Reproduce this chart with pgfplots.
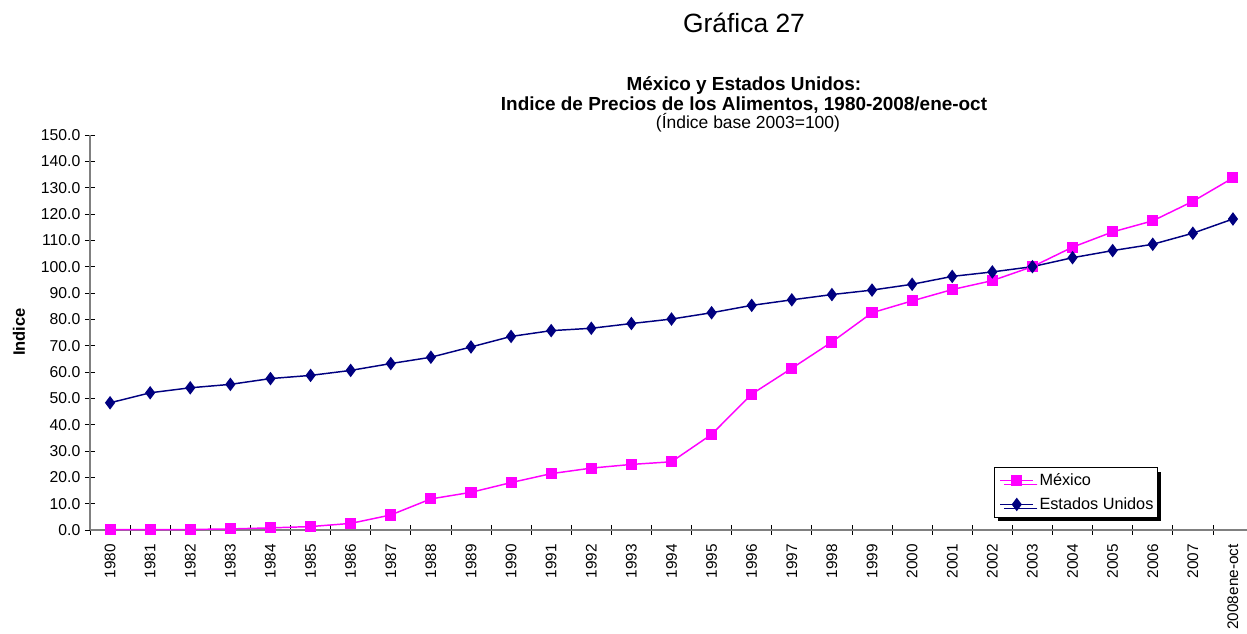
\documentclass[border=0pt]{standalone}
\usepackage{fontspec}
\setmainfont{Liberation Sans}
\usepackage{pgfplots}
\pgfplotsset{compat=1.18}
\usetikzlibrary{shadows}
\definecolor{mxmag}{HTML}{FF00FF}
\definecolor{usnavy}{HTML}{000080}
\definecolor{axgray}{HTML}{808080}

\begin{document}
\begin{tikzpicture}
\path[use as bounding box] (0,0) rectangle (935.25pt,475.5pt);
% titles (positions in px of the 1247x634 frame, 1px = 0.75pt)
\node[anchor=base, font=\fontsize{19.8}{23}\selectfont] at (558pt,450.75pt) {Gráfica 27};
\node[anchor=base, font=\bfseries\fontsize{14.2}{16}\selectfont] at (558pt,407.25pt) {México y Estados Unidos:};
\node[anchor=base, font=\bfseries\fontsize{14.2}{16}\selectfont] at (558pt,392.25pt) {Indice de Precios de los Alimentos, 1980-2008/ene-oct};
\node[anchor=base, font=\fontsize{13.1}{16}\selectfont] at (561pt,378.75pt) {(Índice base 2003=100)};
\node[rotate=90, font=\bfseries\fontsize{12.4}{14}\selectfont] at (14.25pt,226.5pt) {Indice};
\begin{axis}[
  at={(67.5pt,78pt)}, anchor=south west,
  scale only axis, width=872.25pt, height=296.25pt,
  xmin=-0.5, xmax=28.5, ymin=0, ymax=150,
  axis lines*=left,
  axis line style={draw=axgray, line width=1pt},
  clip=false,
  xtick={0,...,28},
  xticklabels={1980,1981,1982,1983,1984,1985,1986,1987,1988,1989,1990,1991,1992,1993,1994,1995,1996,1997,1998,1999,2000,2001,2002,2003,2004,2005,2006,2007,2008ene-oct},
  minor xtick={-0.5,0.5,...,28.5},
  major x tick style={draw=none},
  ytick={0,10,...,150},
  tick align=center,
  major tick length=7.5pt, minor tick length=7.5pt,
  tick style={black, line width=0.6pt},
  /pgf/number format/assume math mode=true,
  yticklabel style={/pgf/number format/.cd, fixed, fixed zerofill, precision=1},
  tick label style={font=\fontsize{11.8}{14}\selectfont},
  xticklabel style={rotate=90, anchor=east, font=\fontsize{11.5}{14}\selectfont},
  xticklabel shift=3.5pt,
  legend style={at={(0.777,0.159)}, anchor=north west, draw=black, line width=0.6pt,
    font=\fontsize{12.2}{14}\selectfont, inner xsep=1pt, inner ysep=2.5pt, row sep=3.5pt,
    drop shadow={shadow xshift=3pt, shadow yshift=-3pt, fill=black, opacity=1}},
  legend cell align=left,
  legend image code/.code={%
    \path (0pt,0pt) (30pt,0pt);
    \draw[mark repeat=2, mark phase=2, #1] plot coordinates {(3pt,0pt) (15.5pt,0pt) (28pt,0pt)};},
]
\addplot[mxmag, line width=1.1pt, mark=square*, mark size=3.6pt, mark options={solid}] coordinates {
(0,0.1) (1,0.1) (2,0.2) (3,0.4) (4,0.8) (5,1.3) (6,2.5) (7,5.7) (8,11.8) (9,14.3)
(10,18.0) (11,21.4) (12,23.5) (13,24.9) (14,25.9) (15,36.3) (16,51.6) (17,61.4) (18,71.4) (19,82.5)
(20,87.0) (21,91.3) (22,94.7) (23,100.0) (24,107.4) (25,113.2) (26,117.4) (27,124.8) (28,133.7)};
\addlegendentry{México}
\addplot[usnavy, line width=1.1pt, mark=diamond*, mark size=4.2pt, mark options={solid}] coordinates {
(0,48.3) (1,52.1) (2,54.0) (3,55.3) (4,57.5) (5,58.7) (6,60.6) (7,63.2) (8,65.6) (9,69.5)
(10,73.5) (11,75.7) (12,76.6) (13,78.4) (14,80.1) (15,82.5) (16,85.3) (17,87.4) (18,89.4) (19,91.1)
(20,93.3) (21,96.3) (22,98.0) (23,100.0) (24,103.4) (25,106.1) (26,108.5) (27,112.7) (28,118.1)};
\addlegendentry{Estados Unidos}
\end{axis}
\end{tikzpicture}
\end{document}
